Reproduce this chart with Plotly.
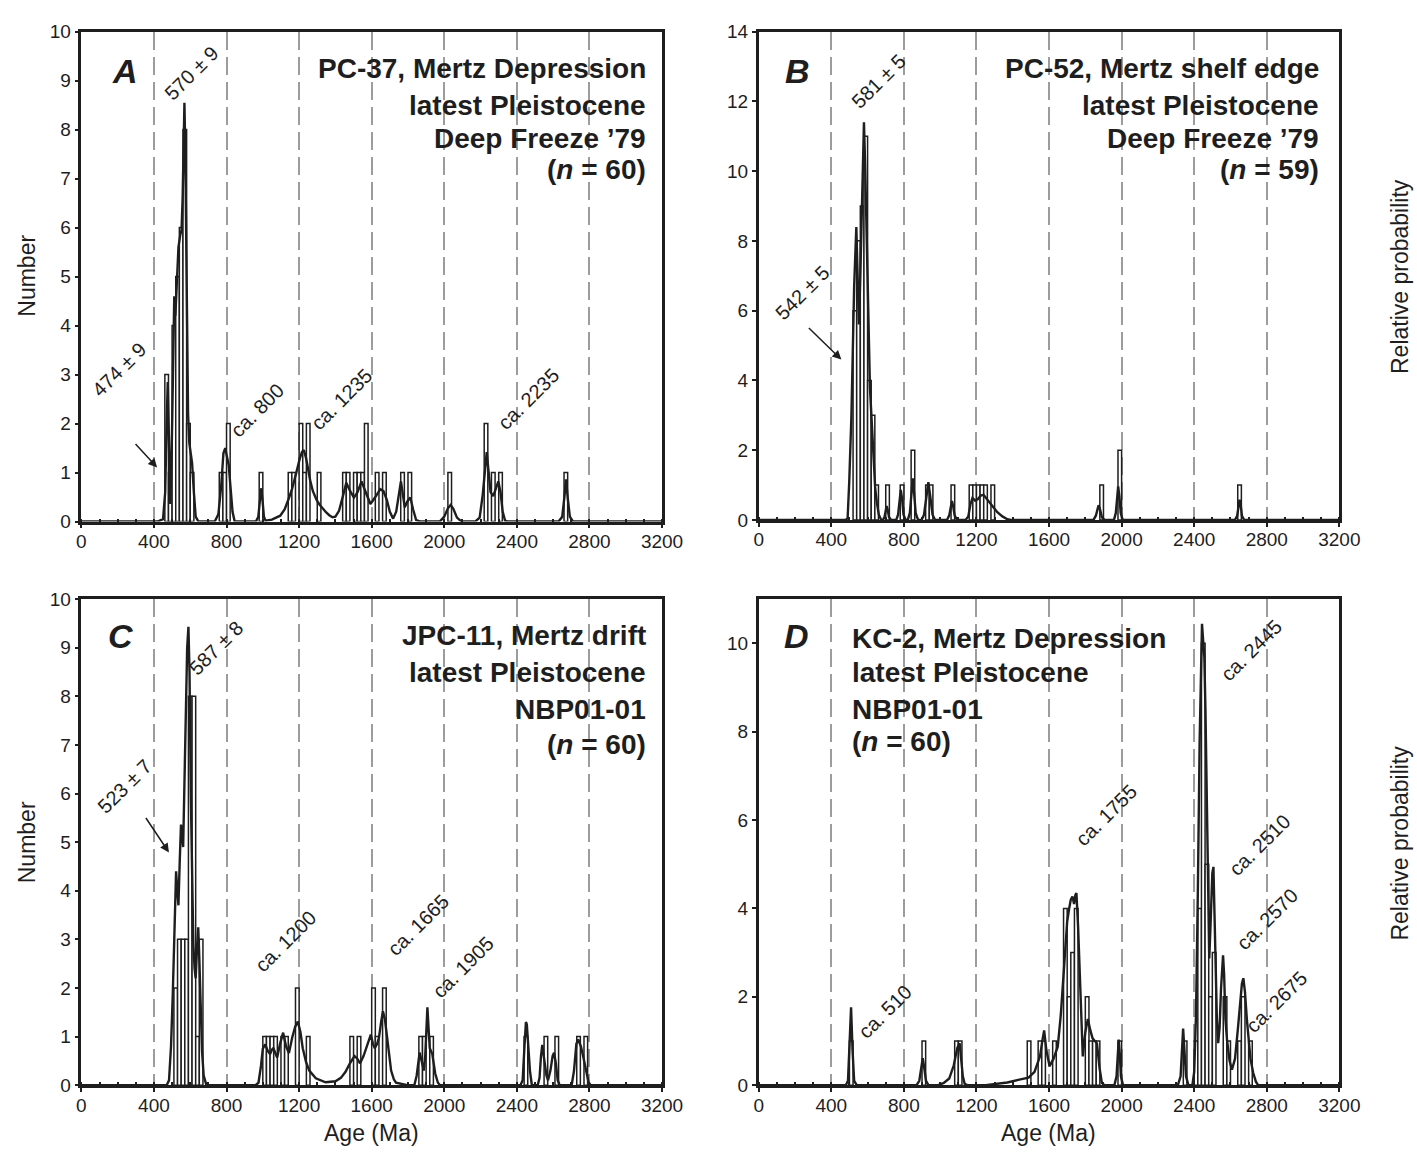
import plotly.graph_objects as go

W, H = 1417, 1160
INK = "#1e1e1e"
GRID = "#9c9c9c"
FONT = "Liberation Sans, Arial, sans-serif"

# ---------------- Panel A: PC-37, Mertz Depression ----------------
a_bin_start = [460, 480, 500, 520, 540, 560, 580, 600, 760, 780, 800, 980,
               1140, 1160, 1200, 1220, 1240, 1300, 1440, 1460, 1500, 1520, 1540, 1560,
               1620, 1660, 1760, 1800, 2020, 2220, 2260, 2300, 2660]
a_bin_count = [3, 1, 4, 5, 6, 8, 2, 1, 1, 1, 2, 1,
               1, 1, 2, 1, 2, 1, 1, 1, 1, 1, 1, 2,
               1, 1, 1, 1, 1, 2, 1, 1, 1]
a_pdf_age = [0, 420, 450, 462, 470, 476, 482, 490, 498, 505, 512, 518, 526, 535, 545, 552, 558,
             563, 568, 573, 580, 588, 595, 603, 610, 620, 630, 645,
             735, 755, 770, 783, 793, 801, 812, 823, 833, 845,
             962, 975, 984, 991, 998, 1006, 1015, 1050, 1096, 1120, 1141, 1160, 1177, 1190,
             1204, 1216, 1226, 1238, 1249, 1262, 1276, 1295, 1312, 1330, 1348, 1366, 1384,
             1400, 1420, 1440, 1460, 1480, 1502, 1522, 1544, 1565, 1593, 1620, 1647, 1665,
             1683, 1700, 1718, 1735, 1750, 1761, 1772, 1782, 1798, 1813, 1828, 1845, 1870,
             1975, 2000, 2020, 2035, 2050, 2070, 2095,
             2170, 2195, 2212, 2226, 2234, 2242, 2255, 2270, 2285, 2298, 2310, 2322, 2335, 2350,
             2630, 2650, 2662, 2671, 2680, 2692, 2710, 3200]
a_pdf_val = [0, 0, 0.05, 0.6, 2.0, 2.85, 1.8, 0.36, 1.5, 3.6, 4.6, 4.2, 5.0, 5.6, 5.85, 5.95, 6.6,
             7.8, 8.55, 7.5, 4.5, 2.2, 1.6, 1.4, 1.2, 0.6, 0.1, 0,
             0, 0.15, 0.7, 1.4, 1.5, 1.35, 1.15, 0.65, 0.2, 0,
             0, 0.1, 0.45, 0.68, 0.45, 0.1, 0.02, 0.04, 0.12, 0.25, 0.45, 0.65, 0.89, 1.1,
             1.29, 1.42, 1.46, 1.3, 1.06, 0.82, 0.62, 0.45, 0.35, 0.26, 0.19, 0.13, 0.09,
             0.1, 0.22, 0.5, 0.79, 0.63, 0.49, 0.6, 0.82, 0.62, 0.36, 0.5, 0.66, 0.62,
             0.45, 0.2, 0.06, 0.2, 0.6, 0.82, 0.55, 0.29, 0.42, 0.49, 0.25, 0.03, 0,
             0, 0.1, 0.27, 0.34, 0.26, 0.08, 0,
             0, 0.08, 0.55, 1.2, 1.42, 1.1, 0.6, 0.52, 0.7, 0.82, 0.6, 0.2, 0.02, 0,
             0, 0.1, 0.5, 0.86, 0.5, 0.1, 0, 0]

# ---------------- Panel B: PC-52, Mertz shelf edge ----------------
b_bin_start = [520, 540, 560, 580, 600, 620, 640, 700, 780, 840, 920, 940, 1060,
               1160, 1180, 1200, 1220, 1240, 1280, 1880, 1980, 2640]
b_bin_count = [6, 8, 9, 11, 4, 3, 1, 1, 1, 2, 1, 1, 1,
               1, 1, 1, 1, 1, 1, 1, 2, 1]
b_pdf_age = [0, 480, 490, 499, 511, 526, 538, 545, 552, 560, 567, 574, 580, 586, 592, 599, 606,
             613, 621, 633, 642, 651, 662, 675,
             685, 693, 699, 705, 711, 718, 730,
             758, 768, 776, 783, 790, 798, 810,
             822, 833, 842, 849, 856, 865, 878,
             898, 911, 923, 935, 946, 958, 972,
             1038, 1050, 1058, 1065, 1072, 1080, 1093,
             1140, 1155, 1167, 1178, 1193, 1208, 1224, 1239, 1260, 1289, 1315, 1343, 1370, 1390,
             1845, 1858, 1866, 1873, 1881, 1891, 1905,
             1958, 1968, 1975, 1981, 1988, 1995, 2006,
             2625, 2637, 2645, 2650, 2656, 2663, 2675, 3200]
b_pdf_val = [0, 0, 0.05, 1.1, 3.0, 6.7, 8.4, 7.0, 5.6, 7.0, 8.8, 10.5, 11.4, 10.3, 8.6, 6.6, 4.9,
             3.8, 3.0, 1.6, 0.9, 0.5, 0.15, 0,
             0, 0.08, 0.28, 0.4, 0.28, 0.08, 0,
             0, 0.15, 0.6, 0.86, 0.6, 0.15, 0,
             0, 0.2, 0.8, 1.19, 0.8, 0.2, 0,
             0, 0.15, 0.65, 1.08, 0.65, 0.15, 0,
             0, 0.13, 0.38, 0.54, 0.38, 0.12, 0,
             0, 0.1, 0.45, 0.63, 0.55, 0.6, 0.7, 0.72, 0.58, 0.4, 0.22, 0.1, 0.02, 0,
             0, 0.12, 0.33, 0.42, 0.3, 0.08, 0,
             0, 0.2, 0.65, 0.96, 0.65, 0.2, 0,
             0, 0.12, 0.45, 0.58, 0.45, 0.12, 0, 0]

# ---------------- Panel C: JPC-11, Mertz drift ----------------
c_bin_start = [510, 530, 550, 570, 590, 610, 630, 650,
               1000, 1020, 1040, 1060, 1100, 1120, 1180, 1240,
               1480, 1520, 1600, 1620, 1660, 1860, 1880, 1920,
               2440, 2550, 2610, 2730, 2770]
c_bin_count = [2, 3, 3, 3, 8, 8, 1, 3,
               1, 1, 1, 1, 1, 1, 2, 1,
               1, 1, 2, 1, 2, 1, 1, 1,
               1, 1, 1, 1, 1]
c_pdf_age = [0, 470, 483, 494, 504, 514, 522, 529, 535, 542, 549, 556, 561, 568, 576, 583, 590,
             596, 603, 610, 617, 624, 630, 637, 644, 650, 656, 665, 674, 689,
             960, 976, 990, 1000, 1013, 1028, 1040, 1050, 1058, 1068, 1079, 1095, 1112, 1128,
             1144, 1162, 1178, 1193, 1207, 1220, 1238, 1256, 1292, 1346, 1400, 1430, 1455,
             1480, 1505, 1520, 1536, 1555, 1572, 1595, 1607, 1617, 1630, 1640, 1652, 1662,
             1673, 1685, 1697, 1707, 1722, 1734, 1797,
             1835, 1848, 1857, 1864, 1872, 1887, 1895, 1902, 1907, 1913, 1920, 1934, 1950, 1965, 1977,
             2420, 2432, 2442, 2450, 2455, 2462, 2472, 2482, 2490,
             2515, 2525, 2533, 2540, 2550, 2563, 2572, 2585, 2597, 2605, 2615, 2625, 2636,
             2702, 2715, 2728, 2738, 2753, 2768, 2780, 2795, 2807, 3200]
c_pdf_val = [0, 0, 0.1, 0.8, 1.9, 3.5, 4.4, 4.0, 3.7, 4.6, 5.36, 5.1, 4.9, 6.2, 8.0, 9.0, 9.43,
             8.5, 6.0, 4.2, 2.9, 2.4, 2.2, 2.8, 3.25, 2.6, 1.6, 0.7, 0.2, 0,
             0, 0.05, 0.4, 0.75, 0.84, 0.7, 0.64, 0.73, 0.76, 0.66, 0.57, 0.85, 1.08, 0.8,
             0.66, 0.98, 1.2, 1.31, 1.1, 0.76, 0.48, 0.3, 0.14, 0.06, 0.08, 0.15, 0.27,
             0.45, 0.6, 0.55, 0.45, 0.6, 0.8, 1.04, 0.85, 0.76, 0.85, 0.98, 1.3, 1.52,
             1.35, 0.98, 0.6, 0.3, 0.12, 0.05, 0,
             0, 0.2, 0.55, 0.67, 0.55, 0.3, 0.6, 1.3, 1.6, 1.2, 0.76, 0.64, 0.24, 0.05, 0,
             0, 0.1, 0.8, 1.3, 1.25, 0.9, 0.3, 0.02, 0,
             0, 0.15, 0.6, 0.83, 0.55, 0.2, 0.1, 0.3, 0.6, 0.67, 0.45, 0.1, 0,
             0, 0.3, 0.85, 0.94, 0.8, 0.55, 0.3, 0.06, 0, 0]

# ---------------- Panel D: KC-2, Mertz Depression ----------------
d_bin_start = [500, 900, 1080, 1100, 1480, 1540, 1560, 1620, 1680, 1700, 1720, 1740,
               1800, 1820, 1840, 1860, 1980, 2340, 2400, 2420, 2440, 2460, 2480,
               2500, 2560, 2580, 2640, 2660, 2700]
d_bin_count = [1, 1, 1, 1, 1, 1, 1, 1, 4, 2, 3, 4,
               2, 1, 1, 1, 1, 1, 1, 4, 10, 5, 2,
               3, 2, 1, 1, 2, 1]
d_pdf_age = [0, 480, 492, 500, 509, 517, 526, 540,
             870, 885, 896, 904, 912, 922, 935,
             990, 1020, 1050, 1075, 1095, 1107, 1116, 1125, 1135, 1150,
             1250, 1300, 1370, 1430, 1487, 1520, 1550, 1563, 1573, 1585, 1603, 1625, 1648,
             1665, 1684, 1700, 1711, 1720, 1729, 1738, 1745, 1751, 1760, 1769, 1778, 1786,
             1800, 1814, 1827, 1840, 1852, 1864, 1878, 1891, 1905,
             1960, 1972, 1978, 1984, 1990, 1996, 2008,
             2310, 2325, 2333, 2339, 2346, 2355, 2368,
             2390, 2400, 2410, 2420, 2430, 2443, 2450, 2456, 2462, 2468, 2476, 2483, 2489,
             2495, 2500, 2506, 2512, 2518, 2525, 2532, 2540, 2548, 2553, 2559, 2565, 2572,
             2581, 2595, 2608, 2625, 2640, 2655, 2663, 2671, 2680, 2690, 2698, 2710, 2725,
             2740, 2752, 3200]
d_pdf_val = [0, 0, 0.1, 0.8, 1.76, 0.8, 0.1, 0,
             0, 0.1, 0.4, 0.61, 0.4, 0.1, 0,
             0, 0.05, 0.15, 0.45, 0.85, 0.95, 0.6, 0.2, 0.03, 0,
             0, 0.02, 0.06, 0.12, 0.17, 0.3, 0.65, 1.0, 1.24, 0.8, 0.43, 0.6, 0.87,
             1.6, 2.7, 3.7, 4.0, 4.2, 4.27, 4.1, 4.3, 4.35, 3.6, 2.7, 1.5, 0.65,
             1.2, 1.5, 1.25, 1.06, 1.0, 0.95, 0.4, 0.05, 0,
             0, 0.2, 0.7, 1.03, 0.7, 0.2, 0,
             0, 0.2, 0.8, 1.28, 0.8, 0.2, 0,
             0, 0.3, 1.6, 4.35, 7.8, 10.44, 10.0, 9.67, 8.5, 6.56, 4.0, 2.87, 3.5,
             4.35, 4.8, 4.94, 3.6, 2.5, 1.5, 0.95, 1.3, 2.2, 2.7, 2.94, 2.5, 1.5,
             1.02, 0.55, 0.35, 0.6, 1.24, 2.0, 2.3, 2.42, 2.1, 1.5, 1.09, 0.6, 0.28,
             0.08, 0, 0]

age_ticks = [0, 400, 800, 1200, 1600, 2000, 2400, 2800, 3200]

# plot frames in pixels: left, right, top, bottom
frames = {
    "A": (77.8, 669.3, 22, 521),
    "B": (767.8, 1359.3, 22, 519.3),
    "C": (77.8, 669.3, 600, 1095),
    "D": (767.8, 1359.3, 600, 1095),
}
panels = [
    ("A", "", a_bin_start, a_bin_count, a_pdf_age, a_pdf_val, 10, 1),
    ("B", "2", b_bin_start, b_bin_count, b_pdf_age, b_pdf_val, 14, 2),
    ("C", "3", c_bin_start, c_bin_count, c_pdf_age, c_pdf_val, 10, 1),
    ("D", "4", d_bin_start, d_bin_count, d_pdf_age, d_pdf_val, 11, 2),
]


def px(x, y):
    return x / W, 1 - y / H


fig = go.Figure()
layout = dict(
    width=W, height=H, margin=dict(l=0, r=0, t=0, b=0),
    paper_bgcolor="white", plot_bgcolor="white", showlegend=False,
    font=dict(family=FONT, color=INK, size=20),
)

for name, sfx, starts, counts, ages, vals, ymax, ydt in panels:
    l, r, t, b = frames[name]
    xa, ya = "x" + sfx, "y" + sfx
    fig.add_trace(go.Bar(
        x=[s + 10 for s in starts], y=counts, width=20, xaxis=xa, yaxis=ya,
        marker=dict(color="white", line=dict(color=INK, width=1.5)),
    ))
    fig.add_trace(go.Scatter(
        x=ages, y=vals, mode="lines", xaxis=xa, yaxis=ya,
        line=dict(color=INK, width=2.4), hoverinfo="skip",
    ))
    layout["xaxis" + sfx] = dict(
        domain=[l / W, r / W], anchor=ya, range=[0, 3200],
        tickvals=age_ticks, ticks="outside", ticklen=4, tickwidth=1.5, tickcolor=INK,
        minor=dict(dtick=100, ticks="inside", ticklen=3, tickwidth=1.5, tickcolor=INK, showgrid=False),
        showgrid=True, gridcolor=GRID, gridwidth=1.5, griddash="18px,7px",
        showline=True, linecolor=INK, linewidth=2.5, mirror=True,
        zeroline=False, tickfont=dict(size=19), ticklabelstandoff=-3, fixedrange=True,
    )
    layout["yaxis" + sfx] = dict(
        domain=[1 - b / H, 1 - t / H], anchor=xa, range=[0, ymax],
        dtick=ydt, ticks="outside", ticklen=4, tickwidth=1.5, tickcolor=INK,
        showgrid=False, showline=True, linecolor=INK, linewidth=2.5, mirror=True,
        zeroline=False, tickfont=dict(size=19), fixedrange=True,
    )

fig.update_layout(**layout)

notes = []


def text(s, x, y, size=21, angle=0, anchor="center", bold=False, italic=False):
    if bold:
        s = "<b>" + s + "</b>"
    if italic:
        s = "<i>" + s + "</i>"
    xp, yp = px(x, y)
    notes.append(dict(text=s, x=xp, y=yp, xref="paper", yref="paper", showarrow=False,
                      textangle=angle, xanchor=anchor, yanchor="middle", borderpad=0,
                      font=dict(family=FONT, size=size, color=INK)))


def arrow(x0, y0, x1, y1):
    xp, yp = px(x1, y1)
    notes.append(dict(text="", x=xp, y=yp, xref="paper", yref="paper", showarrow=True,
                      ax=x0 - x1, ay=y0 - y1, arrowhead=2, arrowsize=1.2,
                      arrowwidth=1.5, arrowcolor=INK))


# panel letters
for letter, x, y in [("A", 122, 62), ("B", 807, 62), ("C", 118, 638), ("D", 806, 638)]:
    text(letter, x, y, size=34, bold=True, italic=True)

# panel headings
n_italic = "(<i>n</i> = {})"
for lines, x, ys, anchor in [
    (["PC-37, Mertz Depression", "latest Pleistocene", "Deep Freeze ’79", n_italic.format(60)],
     654, [60, 97, 131, 162], "right"),
    (["PC-52, Mertz shelf edge", "latest Pleistocene", "Deep Freeze ’79", n_italic.format(59)],
     1340, [60, 97, 131, 162], "right"),
    (["JPC-11, Mertz drift", "latest Pleistocene", "NBP01-01", n_italic.format(60)],
     654, [637, 675, 712, 748], "right"),
    (["KC-2, Mertz Depression", "latest Pleistocene", "NBP01-01", n_italic.format(60)],
     862, [640, 675, 712, 745], "left"),
]:
    for s, y in zip(lines, ys):
        text(s, x, y, size=28, anchor=anchor, bold=True)

# peak age labels (rotated)
for s, x, y in [
    ("570 ± 9", 190, 64), ("474 ± 9", 117, 366), ("ca. 800", 257, 407),
    ("ca. 1235", 343, 396), ("ca. 2235", 533, 396),
    ("581 ± 5", 890, 72), ("542 ± 5", 812, 288),
    ("587 ± 8", 215, 650), ("523 ± 7", 122, 790), ("ca. 1200", 286, 948),
    ("ca. 1665", 421, 932), ("ca. 1905", 467, 975),
    ("ca. 510", 896, 1020), ("ca. 1755", 1122, 820), ("ca. 2445", 1270, 652),
    ("ca. 2510", 1278, 850), ("ca. 2570", 1286, 926), ("ca. 2675", 1295, 1010),
]:
    text(s, x, y, size=20, angle=-45)

arrow(132, 441, 155, 466)
arrow(818, 323, 852, 356)
arrow(143, 822, 167, 858)

# axis titles
text("Number", 22, 271, size=23, angle=-90)
text("Number", 22, 848, size=23, angle=-90)
text("Relative probability", 1421, 271, size=23, angle=-90)
text("Relative probability", 1421, 848, size=23, angle=-90)
text("Age (Ma)", 373, 1144, size=23)
text("Age (Ma)", 1063, 1144, size=23)

fig.update_layout(annotations=notes)
fig.write_html("out.html")
